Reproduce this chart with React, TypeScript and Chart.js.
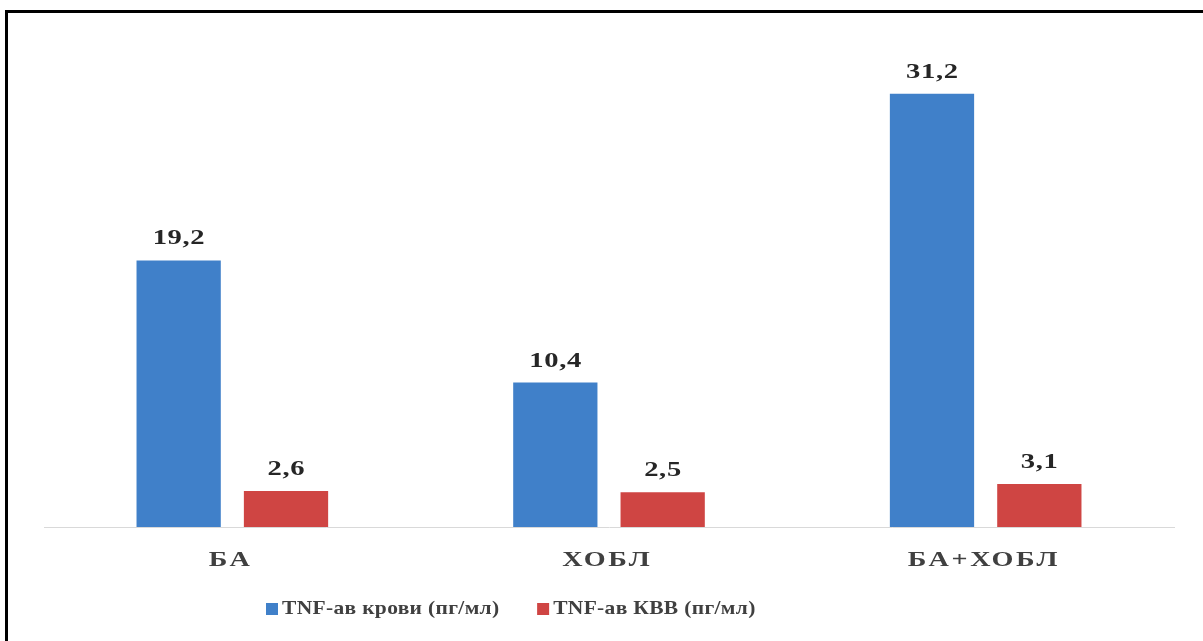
import React, { useEffect, useRef } from "react";
import { Chart, registerables } from "chart.js";

Chart.register(...registerables);

const categories = ["БА", "ХОБЛ", "БА+ХОБЛ"];
const bloodValues = [19.2, 10.4, 31.2];
const ebcValues = [2.6, 2.5, 3.1];
const seriesLabels = ["TNF-ав крови (пг/мл)", "TNF-ав КВВ (пг/мл)"];
const seriesColors = ["#4080C9", "#CF4543"];
const yMin = 0;
const yMax = 35;

const FONT = '"Liberation Serif", "Times New Roman", serif';

const fmt = (v: number) => v.toFixed(1).replace(".", ",");

function drawStretched(ctx: any, text: string, x: number, y: number, sx: number, spacing: number, align: string) {
  ctx.save();
  ctx.letterSpacing = spacing + "px";
  const w = ctx.measureText(text).width - spacing;
  ctx.translate(x, y);
  ctx.scale(sx, 1);
  ctx.textAlign = "left";
  const startX = align === "center" ? -w / 2 : 0;
  ctx.fillText(text, startX, 0);
  ctx.restore();
  return w * sx;
}

const textPlugin = {
  id: "customText",
  afterDraw(chart: any) {
    const ctx = chart.ctx as any;
    ctx.save();
    ctx.textBaseline = "alphabetic";
    // value labels
    ctx.font = `bold 22px ${FONT}`;
    ctx.fillStyle = "#262626";
    chart.data.datasets.forEach((ds: any, di: number) => {
      const meta = chart.getDatasetMeta(di);
      meta.data.forEach((bar: any, i: number) => {
        drawStretched(ctx, fmt(ds.data[i]), bar.x, bar.y - 16, 1.3, 0.5, "center");
      });
    });
    // category labels
    const xs = chart.scales.x;
    ctx.font = `bold 22px ${FONT}`;
    ctx.fillStyle = "#404040";
    chart.data.labels.forEach((c: string, i: number) => {
      drawStretched(ctx, c, xs.getPixelForValue(i) - 3, xs.top + 39, 1.28, 2, "center");
    });
    // legend
    ctx.font = `bold 19px ${FONT}`;
    let x = 266;
    const baseY = 614;
    chart.data.datasets.forEach((ds: any) => {
      ctx.fillStyle = ds.backgroundColor;
      ctx.fillRect(x, baseY - 11, 12, 12);
      ctx.fillStyle = "#404040";
      const w = drawStretched(ctx, ds.label, x + 16, baseY, 1.13, 0.3, "left");
      x = x + 16 + w + 38;
    });
    ctx.restore();
  },
};

export default function App() {
  const ref = useRef<HTMLCanvasElement | null>(null);

  useEffect(() => {
    if (!ref.current) return;
    const chart = new Chart(ref.current, {
      type: "bar",
      data: {
        labels: categories,
        datasets: [
          {
            label: seriesLabels[0],
            data: bloodValues,
            backgroundColor: seriesColors[0],
            categoryPercentage: 0.57,
            barPercentage: 0.785,
          },
          {
            label: seriesLabels[1],
            data: ebcValues,
            backgroundColor: seriesColors[1],
            categoryPercentage: 0.57,
            barPercentage: 0.785,
          },
        ],
      },
      options: {
        responsive: false,
        animation: false,
        devicePixelRatio: 1,
        layout: { padding: { left: 44, right: 29, top: 41, bottom: 114 } },
        plugins: {
          legend: { display: false },
          tooltip: { enabled: false },
        },
        scales: {
          x: {
            grid: { display: false, drawTicks: false },
            border: { display: true, color: "#D9D9D9", width: 1 },
            ticks: { display: false },
          },
          y: {
            display: false,
            min: yMin,
            max: yMax,
          },
        },
      },
      plugins: [textPlugin],
    });
    return () => chart.destroy();
  }, []);

  return (
    <div
      style={{
        position: "fixed",
        left: 0,
        top: 0,
        width: 1203,
        height: 641,
        overflow: "hidden",
        background: "#fff",
      }}
    >
      <div
        style={{
          position: "absolute",
          left: 5,
          top: 10,
          width: 1260,
          height: 700,
          border: "3px solid #000",
          boxSizing: "border-box",
        }}
      />
      <canvas
        ref={ref}
        width={1203}
        height={641}
        style={{ position: "absolute", left: 0, top: 0, display: "block" }}
      />
    </div>
  );
}
